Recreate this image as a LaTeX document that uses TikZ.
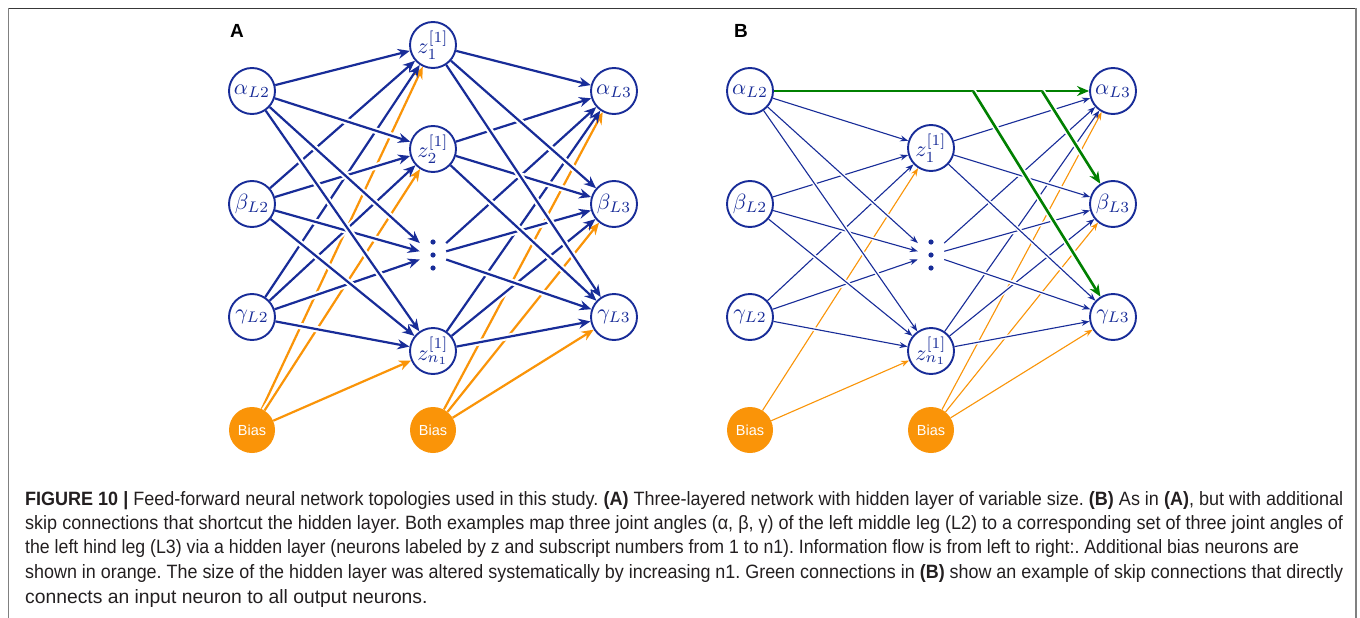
\documentclass[tikz,border=0pt]{standalone}
\usepackage{graphicx}
\usepackage{fontspec}
\newfontfamily\capfont{Liberation Sans}
\usetikzlibrary{arrows.meta}

\definecolor{nnblue}{RGB}{24,44,152}
\definecolor{nnorange}{RGB}{250,148,8}
\definecolor{nngreen}{RGB}{0,128,0}
\definecolor{captext}{RGB}{35,31,32}

\pgfdeclarelayer{edges}
\pgfsetlayers{edges,main}

% a caption line squeezed or stretched to a given width
\newcommand{\capfit}[2]{\resizebox{#1}{\height}{#2}}
% neuron label: 10pt math, enlarged
\newcommand{\nlabel}[1]{\scalebox{2.2}{$#1$}}

\tikzset{
  neuron/.style={circle, draw=nnblue, line width=1.9pt, fill=white,
    minimum size=46pt, inner sep=0pt, text=nnblue},
  biasnode/.style={circle, fill=nnorange, minimum size=46pt, inner sep=0pt,
    text=white, font=\capfont\fontsize{14.5}{16}\selectfont},
  dotsnode/.style={rectangle, minimum width=26pt, minimum height=40pt, inner sep=0pt},
  thick link/.style={line width=2.2pt, -{Stealth[length=12pt,width=10pt]},
    preaction={draw=white, line width=6.5pt, -, shorten >=14pt}},
  thin link/.style={line width=1.1pt, -{Stealth[length=8pt,width=6pt]},
    preaction={draw=white, line width=4pt, -, shorten >=9pt}},
  skip link/.style={draw=nngreen, line width=2.6pt, -{Stealth[length=12pt,width=10pt]}},
  panel label/.style={font=\capfont\bfseries\fontsize{19}{22}\selectfont},
  capline/.style={anchor=base west, inner sep=0pt, text=captext,
    font=\capfont\fontsize{19.3}{24}\selectfont},
}

\begin{document}
\frenchspacing
\begin{tikzpicture}[x=1pt, y=-1pt]
\useasboundingbox (0,0) rectangle (1360,618);

% caption frame
\draw[line width=1.5pt, draw=black!78] (8,8.5) -- (1356.5,8.5);
\draw[line width=1.5pt, draw=black!50] (8.5,8) -- (8.5,618);
\draw[line width=1.5pt, draw=black!50] (1356,8) -- (1356,618);

% ---------------- panel A ----------------
\node[panel label] (labA) at (237,31) {A};
\node[neuron] (A-a) at (252,91) {\nlabel{\alpha_{L2}}};
\node[neuron] (A-b) at (252,204) {\nlabel{\beta_{L2}}};
\node[neuron] (A-g) at (252,317) {\nlabel{\gamma_{L2}}};
\node[neuron] (A-z1) at (433,45) {\nlabel{z^{[1]}_{1}}};
\node[neuron] (A-z2) at (433,149) {\nlabel{z^{[1]}_{2}}};
\node[dotsnode] (A-zd) at (433,255) {};
\node[neuron] (A-zn) at (433,351) {\nlabel{z^{[1]}_{n_1}}};
\node[neuron] (A-ao) at (614,91) {\nlabel{\alpha_{L3}}};
\node[neuron] (A-bo) at (614,204) {\nlabel{\beta_{L3}}};
\node[neuron] (A-go) at (614,317) {\nlabel{\gamma_{L3}}};
\node[biasnode] (A-bias1) at (252,430) {Bias};
\node[biasnode] (A-bias2) at (433,430) {Bias};
\foreach \yy in {242,255,268} \fill[nnblue] (433,\yy) circle (2.6pt);

\begin{pgfonlayer}{edges}
  \foreach \t in {z1,z2,zn} \draw[thick link, draw=nnorange] (A-bias1) -- (A-\t);
  \foreach \t in {ao,bo,go} \draw[thick link, draw=nnorange] (A-bias2) -- (A-\t);
  \foreach \s in {g,b,a} \foreach \t in {z1,z2,zd,zn}
    \draw[thick link, draw=nnblue] (A-\s) -- (A-\t);
  \foreach \s in {zn,zd,z2,z1} \foreach \t in {ao,bo,go}
    \draw[thick link, draw=nnblue] (A-\s) -- (A-\t);
\end{pgfonlayer}

% ---------------- panel B ----------------
\node[panel label] (labB) at (741,31) {B};
\node[neuron] (B-a) at (750,91) {\nlabel{\alpha_{L2}}};
\node[neuron] (B-b) at (750,204) {\nlabel{\beta_{L2}}};
\node[neuron] (B-g) at (750,317) {\nlabel{\gamma_{L2}}};
\node[neuron] (B-z1) at (931,148) {\nlabel{z^{[1]}_{1}}};
\node[dotsnode] (B-zd) at (931,255) {};
\node[neuron] (B-zn) at (931,351) {\nlabel{z^{[1]}_{n_1}}};
\node[neuron] (B-ao) at (1113,91) {\nlabel{\alpha_{L3}}};
\node[neuron] (B-bo) at (1113,204) {\nlabel{\beta_{L3}}};
\node[neuron] (B-go) at (1113,317) {\nlabel{\gamma_{L3}}};
\node[biasnode] (B-bias1) at (750,430) {Bias};
\node[biasnode] (B-bias2) at (931,430) {Bias};
\foreach \yy in {242,255,268} \fill[nnblue] (931,\yy) circle (2.6pt);
\coordinate (B-s1) at (973,91);
\coordinate (B-s2) at (1042,91);

\begin{pgfonlayer}{edges}
  \foreach \t in {z1,zn} \draw[thin link, draw=nnorange] (B-bias1) -- (B-\t);
  \foreach \t in {ao,bo,go} \draw[thin link, draw=nnorange] (B-bias2) -- (B-\t);
  \foreach \s in {g,b,a} \foreach \t in {z1,zd,zn}
    \draw[thin link, draw=nnblue] (B-\s) -- (B-\t);
  \foreach \s in {zn,zd,z1} \foreach \t in {ao,bo,go}
    \draw[thin link, draw=nnblue] (B-\s) -- (B-\t);
  \draw[skip link] (B-a) -- (B-ao);
  \draw[skip link, preaction={draw=white, line width=6pt, -, shorten >=14pt}] (B-s1) -- (B-go);
  \draw[skip link, preaction={draw=white, line width=6pt, -, shorten >=14pt}] (B-s2) -- (B-bo);
\end{pgfonlayer}

% ---------------- caption ----------------
\node[capline] (cap1) at (25,505) {\capfit{1318pt}{\textbf{FIGURE 10 |} Feed-forward neural network topologies used in this study. \textbf{(A)} Three-layered network with hidden layer of variable size. \textbf{(B)} As in \textbf{(A)}, but with additional}};
\node[capline] (cap2) at (25,529) {\capfit{1318pt}{skip connections that shortcut the hidden layer. Both examples map three joint angles (α, β, γ) of the left middle leg (L2) to a corresponding set of three joint angles of}};
\node[capline] (cap3) at (25,553) {\capfit{1274pt}{the left hind leg (L3) via a hidden layer (neurons labeled by z and subscript numbers from 1 to n1). Information flow is from left to right:. Additional bias neurons are}};
\node[capline] (cap4) at (25,578) {\capfit{1318pt}{shown in orange. The size of the hidden layer was altered systematically by increasing n1. Green connections in \textbf{(B)} show an example of skip connections that directly}};
\node[capline] (cap5) at (25,603) {connects an input neuron to all output neurons.};
\end{tikzpicture}
\end{document}
